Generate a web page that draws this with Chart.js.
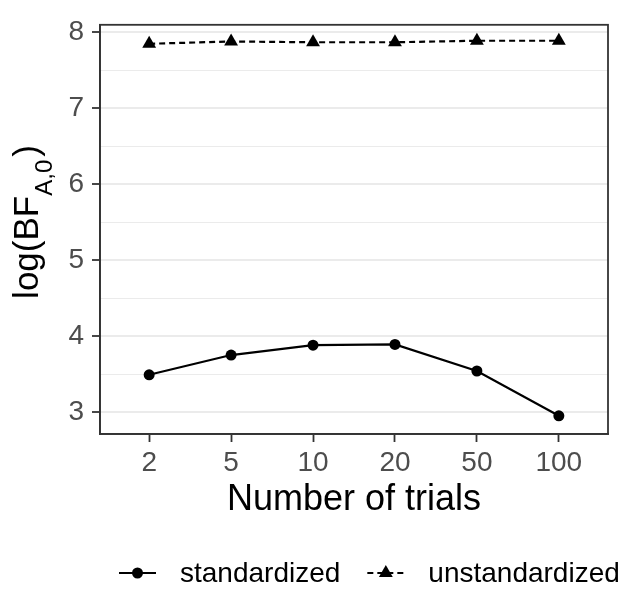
<!DOCTYPE html>
<html>
<head>
<meta charset="utf-8">
<script src="https://cdn.jsdelivr.net/npm/chart.js@4/dist/chart.umd.min.js"></script>
<style>
  html, body { margin: 0; padding: 0; background: #fff; }
  #wrap { width: 627px; height: 590px; }
</style>
</head>
<body>
<div id="wrap"><canvas id="c" width="627" height="590"></canvas></div>
<script>
// data
const trials = ['2', '5', '10', '20', '50', '100'];
const standardized = [3.49, 3.75, 3.88, 3.89, 3.54, 2.95];
const unstandardized = [7.85, 7.88, 7.87, 7.87, 7.89, 7.89];
const yTicks = [3, 4, 5, 6, 7, 8];

const FONT = '"Liberation Sans", Arial, sans-serif';
const dark = '#333333';

// legend + y title + panel border, drawn by hand (ggplot style)
const extras = {
  id: 'extras',
  afterDraw(chart) {
    const ctx = chart.ctx;
    const a = chart.chartArea;

    // panel border
    ctx.save();
    ctx.strokeStyle = dark;
    ctx.lineWidth = 1.8;
    ctx.strokeRect(a.left, a.top, a.right - a.left, a.bottom - a.top);
    ctx.restore();

    // y title with subscript
    ctx.save();
    ctx.translate(37.5, 222);
    ctx.rotate(-Math.PI / 2);
    ctx.fillStyle = '#000';
    ctx.textBaseline = 'alphabetic';
    const big = '35px ' + FONT, small = '24px ' + FONT;
    ctx.font = big;
    const w1 = ctx.measureText('log(BF').width;
    const w3 = ctx.measureText(')').width;
    ctx.font = small;
    const w2 = ctx.measureText('A,0').width + 3;
    let x = -(w1 + w2 + w3) / 2;
    ctx.font = big;
    ctx.fillText('log(BF', x, 0);
    x += w1;
    ctx.font = small;
    ctx.fillText('A,0', x, 14);
    x += w2;
    ctx.font = big;
    ctx.fillText(')', x, 0);
    ctx.restore();

    // legend
    ctx.save();
    const ly = 573;
    let lx = 119;
    ctx.font = '28px ' + FONT;
    ctx.textBaseline = 'middle';
    chart.data.datasets.forEach(ds => {
      ctx.strokeStyle = '#000';
      ctx.lineWidth = 2.2;
      ctx.setLineDash(ds.borderDash || []);
      ctx.beginPath();
      ctx.moveTo(lx, ly);
      ctx.lineTo(lx + 37, ly);
      ctx.stroke();
      ctx.setLineDash([]);
      ctx.fillStyle = '#000';
      Chart.helpers.drawPoint(ctx, { pointStyle: ds.pointStyle, radius: ds.pointRadius, borderWidth: 0 }, lx + 18.5, ly);
      lx += 37 + 24;
      ctx.fillStyle = '#000';
      ctx.fillText(ds.label, lx, ly + 1);
      lx += ctx.measureText(ds.label).width + 27;
    });
    ctx.restore();
  }
};

new Chart(document.getElementById('c'), {
  type: 'line',
  data: {
    datasets: [
      {
        label: 'standardized',
        data: standardized.map((v, i) => ({ x: i, y: v })),
        borderColor: '#000',
        backgroundColor: '#000',
        borderWidth: 2.2,
        pointStyle: 'circle',
        pointRadius: 5.5,
        pointBorderWidth: 0,
        tension: 0
      },
      {
        label: 'unstandardized',
        data: unstandardized.map((v, i) => ({ x: i, y: v })),
        borderColor: '#000',
        backgroundColor: '#000',
        borderWidth: 2.2,
        borderDash: [6, 4],
        pointStyle: 'triangle',
        pointRadius: 8,
        pointBorderWidth: 0,
        tension: 0
      }
    ]
  },
  options: {
    responsive: false,
    animation: false,
    layout: { padding: { top: 12, right: 19, left: 0, bottom: 0 } },
    plugins: {
      legend: { display: false },
      tooltip: { enabled: false }
    },
    scales: {
      x: {
        type: 'linear',
        min: -0.6,
        max: 5.6,
        afterBuildTicks: s => { s.ticks = trials.map((t, i) => ({ value: i })); },
        afterFit: s => { s.height = 156; },
        ticks: {
          callback: v => trials[v],
          color: '#4D4D4D',
          font: { family: FONT, size: 28 },
          padding: 4,
          maxRotation: 0
        },
        grid: { display: true, drawOnChartArea: false, tickLength: 8, tickColor: dark, tickWidth: 1.8 },
        border: { color: dark, width: 1.8 },
        title: {
          display: true,
          text: 'Number of trials',
          color: '#000',
          font: { family: FONT, size: 36 },
          padding: { top: 0, bottom: 68 }
        }
      },
      y: {
        min: 2.71,
        max: 8.10,
        afterBuildTicks: s => {
          const t = [];
          for (let v = 3; v <= 8; v += 0.5) t.push({ value: v });
          s.ticks = t;
        },
        afterFit: s => { s.width = 100; },
        ticks: {
          callback: v => (yTicks.includes(v) ? String(v) : ''),
          color: '#4D4D4D',
          font: { family: FONT, size: 28 },
          padding: 8
        },
        grid: {
          color: '#EBEBEB',
          lineWidth: c => (c.tick && Number.isInteger(c.tick.value) ? 2 : 1),
          tickLength: 8,
          tickColor: c => (c.tick && Number.isInteger(c.tick.value) ? dark : 'rgba(0,0,0,0)'),
          tickWidth: 1.8
        },
        border: { color: dark, width: 1.8 }
      }
    }
  },
  plugins: [extras]
});
</script>
</body>
</html>
